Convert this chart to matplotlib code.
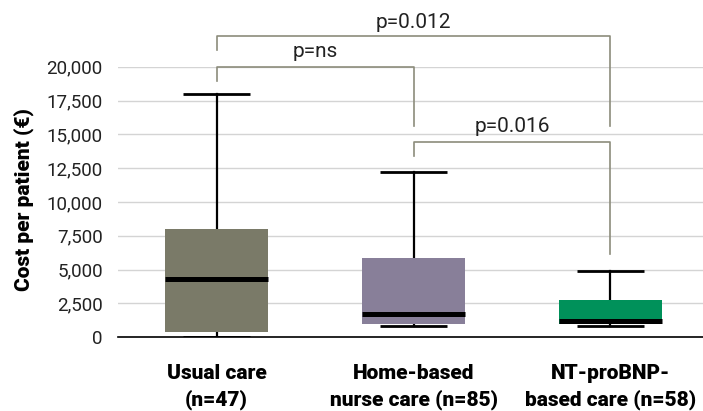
import matplotlib.pyplot as plt

plt.rcParams['font.family'] = ['Roboto', 'DejaVu Sans']

groups = ['Usual care\n(n=47)', 'Home-based\nnurse care (n=85)', 'NT-proBNP-\nbased care (n=58)']
whislo = [50, 850, 850]
q1 = [400, 1000, 1000]
med = [4300, 1700, 1180]
q3 = [8000, 5850, 2750]
whishi = [18000, 12200, 4900]
colors = ['#7a7a68', '#887f99', '#00915a']

# significance brackets: (left group, right group, top, left leg end, right leg end, label, label y)
pairs = [(0, 1, 20000, 18950, 15600, 'p=ns', 21100),
         (0, 2, 22250, 21250, 15600, 'p=0.012', 23300),
         (1, 2, 14450, 13400, 6150, 'p=0.016', 15550)]
yticks = [0, 2500, 5000, 7500, 10000, 12500, 15000, 17500, 20000]

fig = plt.figure(figsize=(7.03, 4.11), dpi=100)
ax = fig.add_axes([0.168, 0.1793, 0.832, 0.6584])

stats = []
for i in range(3):
    stats.append(dict(whislo=whislo[i], q1=q1[i], med=med[i], q3=q3[i], whishi=whishi[i], fliers=[]))

bp = ax.bxp(stats, positions=[0, 1, 2], widths=0.52, capwidths=0.34, patch_artist=True,
            showfliers=False,
            boxprops=dict(linewidth=0),
            medianprops=dict(color='black', linewidth=3.6, solid_capstyle='butt'),
            whiskerprops=dict(color='black', linewidth=1.6),
            capprops=dict(color='black', linewidth=2.0, solid_capstyle='butt'))
for patch, c in zip(bp['boxes'], colors):
    patch.set_facecolor(c)
    patch.set_zorder(3)
for l in bp['medians']:
    l.set_zorder(4)

bc = '#8c8c7c'
for a, b, top, l1, l2, txt, ty in pairs:
    ax.plot([a, a, b, b], [l1, top, top, l2], color=bc, lw=1.2, clip_on=False, zorder=2)
    ax.text((a + b) / 2, ty, txt, ha='center', va='center', fontsize=15, color='#222222')

ax.set_xlim(-0.5, 2.47)
ax.set_ylim(0, 20000)
ax.set_yticks(yticks)
ax.set_yticklabels(['{:,}'.format(v) for v in yticks], fontsize=13.5, color='#222222')
ax.set_xticks([0, 1, 2])
ax.set_xticklabels(groups, fontsize=15, fontweight='heavy', linespacing=1.4)
ax.tick_params(axis='y', length=0, pad=11)
ax.tick_params(axis='x', length=0, pad=19)
ax.grid(axis='y', color='#d4d4d4', lw=1.0)
ax.set_axisbelow(True)
for s in ['top', 'right', 'left']:
    ax.spines[s].set_visible(False)
ax.spines['bottom'].set_linewidth(1.2)
ax.set_ylabel('Cost per patient (€)', fontsize=15, fontweight='heavy')
ax.yaxis.set_label_coords(-0.143, 0.51)

fig.savefig('out.png', dpi=100)
